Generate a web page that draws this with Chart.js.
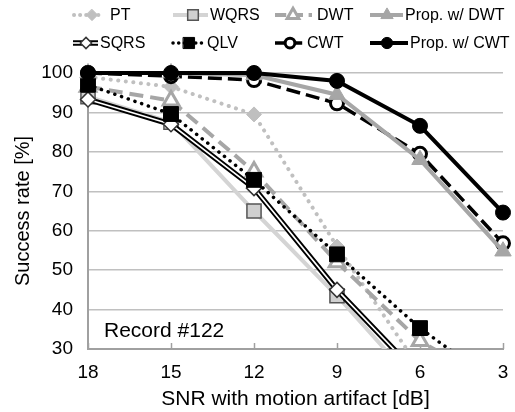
<!DOCTYPE html>
<html><head><meta charset="utf-8">
<script src="https://cdn.jsdelivr.net/npm/chart.js@4"></script>
<style>html,body{margin:0;padding:0;background:#fff}#wrap{width:515px;height:412px}</style>
</head><body><div id="wrap"><canvas id="c" width="515" height="412"></canvas></div>
<script>
// ---- data ----
const snrLabels = ['18', '15', '12', '9', '6', '3'];
const yTicks = [30, 40, 50, 60, 70, 80, 90, 100];
const ptValues = [99, 96.5, 89.5, 56, 25, 15];
const wqrsValues = [94, 87.5, 65, 43.5, 20, 10];
const dwtValues = [96.5, 93, 75, 52, 32, 20];
const propDwtValues = [100, 100, 99.5, 94.5, 78, 54.8];
const sqrsValues = [93.3, 87, 70.8, 45, 23, 10];
const qlvValues = [97, 89.6, 72.9, 54, 35.3, 20];
const cwtValues = [100, 99.2, 98.2, 92.3, 79.5, 56.8];
const propCwtValues = [100, 100, 100, 98, 86.6, 64.6];
const seriesNames = ['PT', 'WQRS', 'DWT', 'Prop. w/ DWT', 'SQRS', 'QLV', 'CWT', 'Prop. w/ CWT'];
const yTitle = 'Success rate [%]';
const xTitle = 'SNR with motion artifact [dB]';
const annotationText = 'Record #122';

const FONT = "'Liberation Sans', Arial, sans-serif";

function mk(label, data, o) {
  return Object.assign({
    label, data, fill: false, tension: 0, borderCapStyle: 'butt',
    clip: {left: 12, top: 20, right: 12, bottom: 0}
  }, o);
}

const dsPT = mk(seriesNames[0], ptValues, {borderColor:'#c0c0c0', borderWidth:4, borderDash:[0.1,7.5], borderCapStyle:'round',
  pointStyle:'rectRot', pointRadius:7.5, pointBackgroundColor:'#bfbfbf', pointBorderColor:'#bfbfbf', pointBorderWidth:1, order:9, lg:{row:0,x1:74,x2:104,xm:92,xt:110}});
const dsWQRS = mk(seriesNames[1], wqrsValues, {borderColor:'#d4d4d4', borderWidth:4,
  pointStyle:'rect', pointRadius:10, pointBackgroundColor:'#d0d0d0', pointBorderColor:'#555', pointBorderWidth:1.5, order:8, lg:{row:0,x1:173,x2:208,xm:193,xt:210}});
const dsDWT = mk(seriesNames[2], dwtValues, {borderColor:'#a6a6a6', borderWidth:4, borderDash:[14,7],
  pointStyle:'triangle', pointRadius:9, pointBackgroundColor:'#ffffff', pointBorderColor:'#a6a6a6', pointBorderWidth:3, order:7, lg:{row:0,x1:275,x2:312,xm:293,xt:317}});
const dsPropDWT = mk(seriesNames[3], propDwtValues, {borderColor:'#a6a6a6', borderWidth:4,
  pointStyle:'triangle', pointRadius:9.5, pointBackgroundColor:'#a6a6a6', pointBorderColor:'#a6a6a6', pointBorderWidth:1, order:2, lg:{row:0,x1:370,x2:403,xm:387,xt:405}});
const dsSQRS = mk(seriesNames[4], sqrsValues, {borderColor:'#000', borderWidth:5.5,
  pointRadius:0, order:6, double:true, lg:{row:1,x1:73,x2:98,xm:86,xt:100}});
const dsSQRSinner = mk('SQRS inner', sqrsValues, {borderColor:'#fff', borderWidth:1.6,
  pointStyle:'rectRot', pointRadius:7.5, pointBackgroundColor:'#ffffff', pointBorderColor:'#333', pointBorderWidth:1.5, order:5});
const dsQLV = mk(seriesNames[5], qlvValues, {borderColor:'#000', borderWidth:3.5, borderDash:[0.1,7], borderCapStyle:'round',
  pointStyle:'rect', pointRadius:10.5, pointBackgroundColor:'#000', pointBorderColor:'#000', pointBorderWidth:1, order:4, lg:{row:1,x1:173,x2:204,xm:189,xt:207}});
const dsCWT = mk(seriesNames[6], cwtValues, {borderColor:'#000', borderWidth:3.5, borderDash:[14,6],
  pointStyle:'circle', pointRadius:6.5, pointBackgroundColor:'#fff', pointBorderColor:'#000', pointBorderWidth:3, order:3, lg:{row:1,x1:275,x2:303,xm:290,xt:307}});
const dsPropCWT = mk(seriesNames[7], propCwtValues, {borderColor:'#000', borderWidth:4,
  pointStyle:'circle', pointRadius:7.5, pointBackgroundColor:'#000', pointBorderColor:'#000', pointBorderWidth:1, order:1, lg:{row:1,x1:370,x2:408,xm:387,xt:410}});

const datasets = [dsPT, dsWQRS, dsDWT, dsPropDWT, dsSQRS, dsSQRSinner, dsQLV, dsCWT, dsPropCWT];

function drawMarker(ctx, style, x, y, r, fill, stroke, lw) {
  ctx.save();
  ctx.setLineDash([]);
  ctx.beginPath();
  if (style === 'circle') {
    ctx.arc(x, y, r, 0, Math.PI * 2);
  } else if (style === 'rect') {
    const s = r * Math.SQRT1_2;
    ctx.rect(x - s, y - s, 2 * s, 2 * s);
  } else if (style === 'rectRot') {
    ctx.moveTo(x, y - r); ctx.lineTo(x + r, y); ctx.lineTo(x, y + r); ctx.lineTo(x - r, y); ctx.closePath();
  } else if (style === 'triangle') {
    for (let i = 0; i < 3; i++) {
      const a = i * 2 * Math.PI / 3;
      const px = x + Math.sin(a) * r, py = y - Math.cos(a) * r;
      if (i === 0) ctx.moveTo(px, py); else ctx.lineTo(px, py);
    }
    ctx.closePath();
  }
  ctx.fillStyle = fill; ctx.fill();
  ctx.lineWidth = lw; ctx.strokeStyle = stroke; ctx.stroke();
  ctx.restore();
}

const legendPlugin = {
  id: 'customLegend',
  afterDraw(chart) {
    const ctx = chart.ctx;
    const rows = [15, 43];
    ctx.save();
    datasets.forEach(ds => {
      if (!ds.lg) return;
      const y = rows[ds.lg.row];
      ctx.beginPath();
      ctx.setLineDash(ds.borderDash ? ds.borderDash.map(v => v * 0.8) : []);
      ctx.lineCap = ds.borderCapStyle || 'butt';
      ctx.strokeStyle = ds.borderColor;
      ctx.lineWidth = ds.borderWidth;
      ctx.moveTo(ds.lg.x1, y); ctx.lineTo(ds.lg.x2, y); ctx.stroke();
      let m = ds;
      if (ds.double) {
        ctx.beginPath(); ctx.setLineDash([]); ctx.strokeStyle = '#fff'; ctx.lineWidth = 1.6;
        ctx.moveTo(ds.lg.x1, y); ctx.lineTo(ds.lg.x2, y); ctx.stroke();
        m = dsSQRSinner;
      }
      drawMarker(ctx, m.pointStyle, ds.lg.xm, y, m.pointRadius * 0.75, m.pointBackgroundColor, m.pointBorderColor, m.pointBorderWidth);
      ctx.fillStyle = '#000';
      ctx.font = '16px ' + FONT;
      ctx.textBaseline = 'middle';
      ctx.textAlign = 'left';
      ctx.fillText(ds.label, ds.lg.xt, y + 1);
    });
    ctx.restore();
  }
};

const extrasPlugin = {
  id: 'extras',
  beforeDatasetsDraw(chart) {
    const ctx = chart.ctx, xs = chart.scales.x, a = chart.chartArea;
    ctx.save();
    ctx.strokeStyle = '#a0a0a0'; ctx.lineWidth = 1.5;
    snrLabels.forEach((l, i) => {
      const px = Math.round(xs.getPixelForValue(i)) + 0.5;
      ctx.beginPath(); ctx.moveTo(px, a.bottom); ctx.lineTo(px, a.bottom - 6); ctx.stroke();
    });
    ctx.fillStyle = '#000';
    ctx.font = '21px ' + FONT;
    ctx.textBaseline = 'alphabetic';
    ctx.fillText(annotationText, a.left + 16, a.bottom - 12);
    ctx.restore();
  }
};

new Chart(document.getElementById('c'), {
  type: 'line',
  data: { labels: snrLabels, datasets },
  options: {
    responsive: false, animation: false, devicePixelRatio: 1,
    layout: { padding: { top: 73, right: 1.7, bottom: 0, left: 0 } },
    plugins: { legend: { display: false }, tooltip: { enabled: false } },
    scales: {
      x: {
        type: 'category', offset: false,
        grid: { display: false, drawTicks: true, tickLength: 12.6 },
        border: { display: true, color: '#a0a0a0', width: 2 },
        ticks: { color: '#000', font: { family: FONT, size: 19 }, padding: 0, maxRotation: 0, autoSkip: false },
        title: { display: true, text: xTitle, color: '#000', font: { family: FONT, size: 21 }, padding: { top: 2.4, bottom: 0 } }
      },
      y: {
        min: 30, max: 100,
        afterBuildTicks: s => { s.ticks = yTicks.map(v => ({ value: v })); },
        grid: { color: '#c0c0c0', lineWidth: 1.5, drawTicks: true, tickLength: 15, tickColor: 'rgba(0,0,0,0)' },
        border: { display: true, color: '#a0a0a0', width: 2 },
        ticks: { color: '#000', font: { family: FONT, size: 19 }, padding: 0 },
        title: { display: true, text: yTitle, color: '#000', font: { family: FONT, size: 20 }, padding: { top: 11, bottom: 6.3 } }
      }
    }
  },
  plugins: [extrasPlugin, legendPlugin]
});
</script></body></html>
